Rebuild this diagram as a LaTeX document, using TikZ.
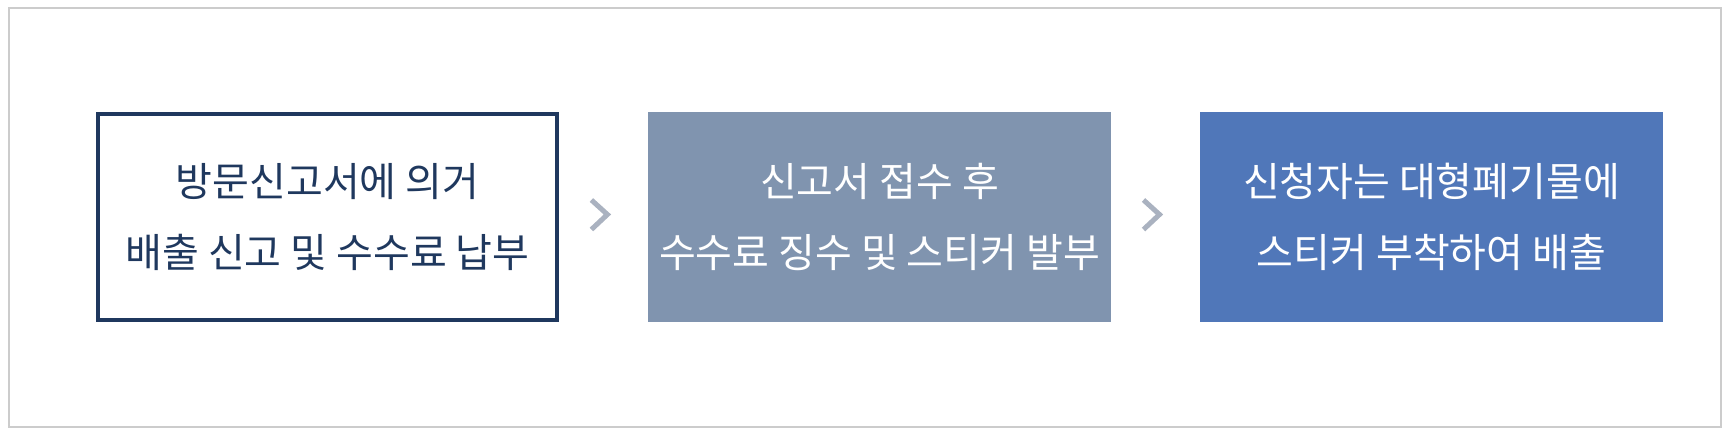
\documentclass[tikz,border=0pt]{standalone}
\usepackage{fontspec}
\setmainfont{Noto Sans CJK KR}
\usepackage{tikz}
\usetikzlibrary{calc}
\definecolor{navy}{RGB}{31, 56, 94}
\definecolor{steel}{RGB}{128, 148, 175}
\definecolor{royal}{RGB}{80, 119, 185}
\definecolor{chevgray}{RGB}{170, 178, 192}
\definecolor{gray80}{gray}{0.8}

\begin{document}
\begin{tikzpicture}[x=1pt, y=-1pt,
    stepbox/.style={minimum width=463pt, minimum height=210pt, inner sep=0pt,
      align=center, font=\fontsize{40}{71}\selectfont},
    chev/.style={chevgray, line width=5pt, line cap=butt, line join=miter}]
  \useasboundingbox (0, 0) rectangle (1730, 435);
  \draw[gray80, line width=2] (9, 8) rectangle (1721, 427);

  \node[stepbox, draw=navy, line width=4, text=navy,
    minimum width=459pt, minimum height=206pt] (b1) at (327.5, 217)
    {방문신고서에 의거\\배출 신고 및 수수료 납부};
  \node[stepbox, fill=steel, text=white] (b2) at (879.5, 217)
    {신고서 접수 후\\수수료 징수 및 스티커 발부};
  \node[stepbox, fill=royal, text=white] (b3) at (1431.5, 217)
    {신청자는 대형폐기물에\\스티커 부착하여 배출};

  \foreach [count=\n] \a/\b in {b1/b2, b2/b3} {
    \coordinate (c\n) at ($(\a.east)!0.5!(\b.west)$);
    \draw[chev] ([shift={(-12, -17)}]c\n) -- ([shift={(4, -2.5)}]c\n)
      -- ([shift={(-12, 12.5)}]c\n);
  }
\end{tikzpicture}
\end{document}
